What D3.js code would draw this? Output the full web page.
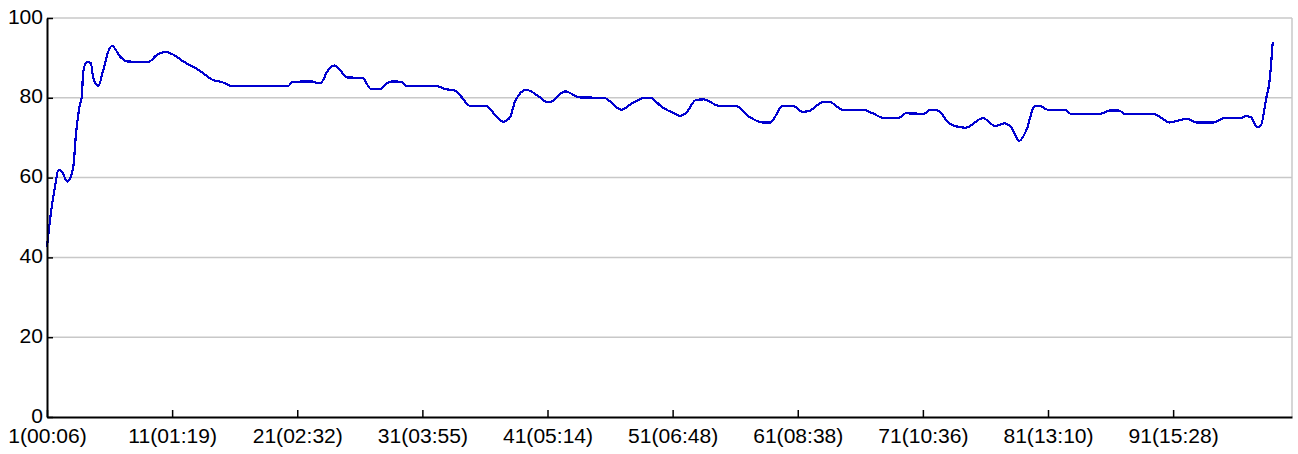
<!DOCTYPE html>
<meta charset="utf-8">
<style>
body { margin: 0; background: #fff; }
text { font-family: "Liberation Sans", Arial, sans-serif; font-size: 19.5px; fill: #000; }
.grid line { stroke: #c8c8c8; stroke-width: 1.5px; }
.line { fill: none; stroke: #0000d0; stroke-width: 2.2px; shape-rendering: crispEdges; }
</style>
<svg width="1298" height="454"></svg>
<script src="https://d3js.org/d3.v7.min.js"></script>
<script>

// sample position (index) and value
var idx = [1, 1.38, 1.64, 1.9, 2.18, 2.63, 3.1, 3.3, 3.6, 3.78, 3.9, 4.18, 4.5, 4.7, 5.1, 5.5, 5.9, 6.2, 6.85, 7.4,
  9.1, 9.8, 10.5, 11.1, 11.9, 13.3, 14.1, 15.1, 15.7, 20.3, 20.6, 22.2, 22.6, 22.9, 23.4, 23.95, 24.5, 25, 26.2, 26.9,
  27.6, 28.2, 28.6, 29.3, 29.7, 32.1, 32.8, 33.6, 34.1, 34.8, 36.1, 36.8, 37.45, 38, 38.4, 39.3, 40.4, 40.9, 41.2, 42.4,
  43.6, 45.5, 46.9, 47.7, 48.8, 49.2, 50.1, 51.1, 51.6, 52, 52.9, 53.5, 54.7, 56, 57.2, 58.2, 58.8, 59.8, 60.6, 61.4,
  61.9, 63, 63.5, 64.6, 66.2, 67, 67.8, 69.1, 69.6, 71.1, 71.6, 72.2, 73.1, 73.6, 74.4, 75.8, 76.8, 77.5, 78.1, 78.7,
  79.3, 79.9, 80.3, 81, 82.4, 82.8, 85.2, 85.9, 86.7, 87.1, 89.4, 90.2, 90.7, 91.4, 92.1, 92.9, 94.2, 95.1, 96.4, 96.8,
  97.2, 97.7, 98, 98.45, 98.7, 98.96];
var vals = [42.7, 52.7, 57.7, 61.9, 61.5, 59, 62.7, 70.3, 77.8, 80.3, 86.6, 88.9, 88.8, 84.9, 83, 87, 91.6, 93, 90.3, 89.1,
  89, 90.8, 91.5, 90.8, 89.1, 86.6, 84.7, 83.8, 83, 83, 84, 84.1, 83.7, 83.8, 86.6, 88.1, 86.6, 85.1, 85, 82.2,
  82.2, 83.7, 84.1, 84, 83, 83, 82.2, 81.8, 80.3, 78, 78, 75.7, 74, 75.1, 79, 82, 80.1, 79, 79, 81.6,
  80.1, 80, 77, 78.5, 80, 80, 77.8, 76.1, 75.5, 76, 79.5, 79.6, 78, 78, 75.1, 73.8, 73.8, 78, 78, 76.5,
  76.7, 78.9, 79, 77, 77, 76.1, 75, 75, 76.1, 76, 77, 76.8, 73.6, 72.9, 72.5, 74.9, 72.9, 73.6, 72.4, 69.2,
  72.1, 77.8, 78, 77, 77, 76, 76, 76.8, 76.8, 76, 76, 74.7, 73.8, 74.3, 74.7, 73.8, 73.8, 74.9, 74.9, 75.4,
  75.2, 72.7, 73, 80, 84, 94];

var tickIdx = [1, 11, 21, 31, 41, 51, 61, 71, 81, 91];
var tickLabels = ["1(00:06)", "11(01:19)", "21(02:32)", "31(03:55)", "41(05:14)",
  "51(06:48)", "61(08:38)", "71(10:36)", "81(13:10)", "91(15:28)"];
var yTicks = [0, 20, 40, 60, 80, 100];

var svg = d3.select("svg"),
    margin = {top: 18, right: 6, bottom: 37, left: 47},
    width = +svg.attr("width") - margin.left - margin.right,
    height = +svg.attr("height") - margin.top - margin.bottom;

var x = d3.scaleLinear().domain([1, 100.5]).range([0, width]),
    y = d3.scaleLinear().domain([0, 100]).range([height, 0]);

var g = svg.append("g")
    .attr("transform", "translate(" + margin.left + "," + margin.top + ")");

// horizontal grid
g.append("g")
    .attr("class", "grid")
  .selectAll("line")
  .data(yTicks.slice(1))
  .enter().append("line")
    .attr("x1", 0)
    .attr("x2", width)
    .attr("y1", function(d) { return y(d); })
    .attr("y2", function(d) { return y(d); });

// right border
g.append("line")
    .attr("x1", width).attr("x2", width)
    .attr("y1", 0).attr("y2", height)
    .attr("stroke", "#c8c8c8").attr("stroke-width", 1.5);

var data = idx.map(function(d, i) { return {i: d, v: vals[i]}; });

var line = d3.line()
    .curve(d3.curveMonotoneX)
    .x(function(d) { return x(d.i); })
    .y(function(d) { return y(d.v); });

g.append("path")
    .datum(data)
    .attr("class", "line")
    .attr("d", line);

// y axis
var yAxis = g.append("g")
    .call(d3.axisLeft(y).tickValues(yTicks).tickSizeInner(-6).tickSizeOuter(0).tickPadding(4));
yAxis.select(".domain").attr("stroke", "#000").attr("stroke-width", 2);
yAxis.selectAll(".tick line").attr("stroke-width", 1.5);
yAxis.selectAll(".tick text")
    .attr("x", 0).attr("dy", null).attr("y", 5)
    .attr("text-anchor", "end")
    .attr("transform", "translate(-4,0) scale(1.08,1)")
    .style("font-size", "19.5px");

// x axis
var xAxis = g.append("g")
    .attr("transform", "translate(0," + height + ")")
    .call(d3.axisBottom(x).tickValues(tickIdx).tickSizeInner(-7).tickSizeOuter(0)
      .tickFormat(function(d, i) { return tickLabels[i]; }));
xAxis.select(".domain").attr("stroke", "#000").attr("stroke-width", 2);
xAxis.selectAll(".tick line").attr("stroke-width", 1.5);
xAxis.selectAll(".tick text")
    .attr("y", 26).attr("dy", null)
    .attr("transform", "scale(1.08,1)")
    .style("font-size", "19.5px");

</script>
